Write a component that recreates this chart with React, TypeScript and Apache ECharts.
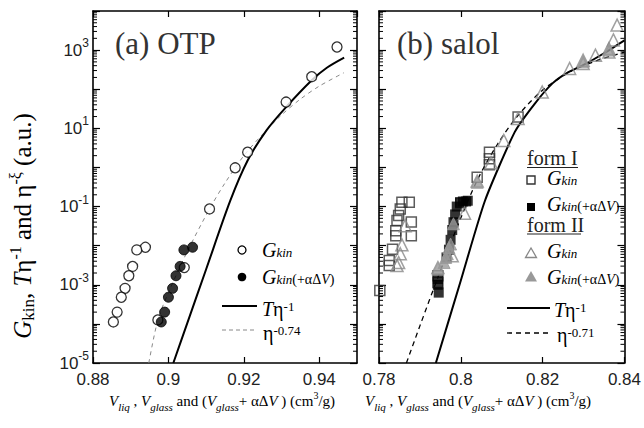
import React, { useEffect, useRef } from "react";
import * as echarts from "echarts";

// ---------- data (x: specific volume cm^3/g, y: a.u.) ----------
// (a) OTP
const otpGkin: [number, number][] = [
  [0.9447, 1200], [0.938, 209], [0.9312, 47], [0.921, 2.45], [0.9177, 0.98],
  [0.9109, 0.087], [0.9042, 0.00275], [0.8972, 0.000126], [0.8939, 0.0091],
  [0.8916, 0.0078], [0.8905, 0.00295], [0.8895, 0.0017], [0.8885, 0.00081],
  [0.8875, 0.00048], [0.8864, 0.0002], [0.8854, 0.000112],
];
const otpGkinShift: [number, number][] = [
  [0.9064, 0.0091], [0.9041, 0.0078], [0.9031, 0.00295], [0.902, 0.0017],
  [0.9011, 0.00081], [0.9, 0.00048], [0.899, 0.0002], [0.8981, 0.000112],
];
const otpTEta: [number, number][] = [
  [0.9013, 1e-5], [0.905, 1.05e-4], [0.91, 2.5e-3], [0.9164, 0.141], [0.921, 1.5],
  [0.926, 8.9], [0.9312, 35], [0.938, 170], [0.942, 355], [0.9466, 645],
];
const otpEta074: [number, number][] = [
  [0.8948, 1e-5], [0.8972, 1.26e-4], [0.9, 6.3e-4], [0.905, 7.1e-3], [0.9109, 0.087],
  [0.915, 0.4], [0.92, 2.0], [0.925, 7.1], [0.93, 22], [0.935, 56], [0.94, 120], [0.9465, 263],
];

// (b) salol
const salolIGkin: [number, number][] = [
  [0.814, 19.5], [0.807, 2.45], [0.807, 1.66], [0.807, 1.17], [0.804, 0.56], [0.8, 0.126],
  [0.7944, 1.7e-3], [0.7944, 1.15e-3], [0.7856, 0.129], [0.7874, 0.129], [0.7852, 0.087],
  [0.7848, 0.059], [0.7844, 0.044], [0.7879, 0.04], [0.7841, 0.024], [0.7841, 0.018],
  [0.7879, 0.018], [0.7833, 8.1e-3], [0.7825, 4.2e-3], [0.7825, 3.1e-3], [0.7802, 7.1e-4],
];
const salolIGkinShift: [number, number][] = [
  [0.7946, 6.3e-4], [0.7944, 1e-3], [0.7944, 1.4e-3], [0.7965, 5e-3], [0.7971, 7.9e-3],
  [0.7975, 0.0141], [0.7979, 0.0251], [0.7982, 0.0398], [0.7986, 0.063], [0.799, 0.1],
  [0.7998, 0.126], [0.8005, 0.135], [0.8013, 0.135], [0.8017, 0.141],
];
const salolIIGkin: [number, number][] = [
  [0.8382, 4365], [0.8373, 1820], [0.8362, 1096], [0.8362, 891], [0.8329, 741],
  [0.8299, 550], [0.8299, 457], [0.8266, 339], [0.8199, 85], [0.814, 17.8],
  [0.8105, 4.9], [0.8074, 1.32], [0.804, 0.447], [0.8009, 0.0676], [0.7979, 5.5e-3],
  [0.7944, 2.75e-3], [0.7864, 0.0324], [0.7856, 0.0105], [0.7852, 6.2e-3],
  [0.7848, 3.7e-3], [0.7844, 3.1e-3],
];
const salolIIGkinShift: [number, number][] = [
  [0.7982, 0.0363], [0.7975, 0.011], [0.7971, 8.9e-3], [0.7967, 6.2e-3], [0.7963, 5e-3],
  [0.7959, 3.7e-3], [0.7944, 2.5e-3], [0.804, 0.417], [0.8299, 501], [0.8362, 1000],
];
const salolTEta: [number, number][] = [
  [0.7939, 1e-5], [0.8, 1.29e-3], [0.8059, 0.141], [0.8132, 8.1], [0.818, 41.7],
  [0.8224, 141], [0.826, 263], [0.83, 417], [0.835, 832], [0.84, 1778],
];
const salolEta071: [number, number][] = [
  [0.7867, 1e-5], [0.79, 8.9e-5], [0.7944, 1.55e-3], [0.799, 0.0282], [0.804, 0.468],
  [0.809, 3.98], [0.814, 21.4], [0.8199, 93], [0.8266, 275], [0.833, 525], [0.84, 891],
];

// axis ranges / ticks
const xRangeA: [number, number] = [0.88, 0.95];
const xRangeB: [number, number] = [0.78, 0.84];
const xStep = 0.02;
const yRange: [number, number] = [1e-5, 1e4];
const minorDecades = [-5, -4, -3, -2, -1, 0, 1, 2, 3];
const minorMult = [2, 3, 4, 5, 6, 7, 8, 9];

const SERIF = '"Liberation Serif", "Times New Roman", serif';
const SANS = '"Liberation Sans", Arial, sans-serif';

const minorTickValues: number[] = [];
minorDecades.forEach((d) => minorMult.forEach((m) => minorTickValues.push(m * Math.pow(10, d))));

function axisCommon() {
  return {
    axisLine: { show: true, onZero: false, lineStyle: { color: "#000", width: 1.6 } },
    axisTick: { show: true, inside: true, length: 7, lineStyle: { color: "#000", width: 1.2 } },
    splitLine: { show: false },
    minorTick: { show: false },
  };
}

function xAxisDef(grid: number, range: [number, number], top: boolean, labels: boolean) {
  return {
    type: "value",
    gridIndex: grid,
    position: top ? "top" : "bottom",
    min: range[0],
    max: range[1],
    interval: xStep,
    ...axisCommon(),
    axisTick: { show: true, inside: true, length: 6, lineStyle: { color: "#000", width: 1.2 } },
    axisLabel: {
      show: labels,
      showMaxLabel: grid === 1,
      margin: 8,
      fontSize: 17,
      color: "#222",
      fontFamily: SANS,
      formatter: (v: number) => String(parseFloat(v.toFixed(2))),
    },
  };
}

function yAxisDef(grid: number, right: boolean, labels: boolean) {
  return {
    type: "log",
    logBase: 10,
    gridIndex: grid,
    position: right ? "right" : "left",
    min: yRange[0],
    max: yRange[1],
    interval: 1,
    ...axisCommon(),
    axisLabel: {
      show: labels,
      margin: 4,
      formatter: (v: number) => {
        const e = Math.round(Math.log10(v));
        return e % 2 !== 0 ? `{a|10}{s|${e}}` : "";
      },
      rich: {
        a: { fontSize: 17, lineHeight: 26, fontFamily: SANS, color: "#222" },
        s: { fontSize: 12, lineHeight: 6, verticalAlign: "top", fontFamily: SANS, color: "#222" },
      },
    },
  };
}

function minorTickSeries(grid: number, x0: number) {
  return {
    type: "custom",
    xAxisIndex: grid * 2,
    yAxisIndex: grid * 2,
    silent: true,
    clip: false,
    z: 10,
    data: minorTickValues.map((v) => [x0, v]),
    renderItem: (params: any, api: any) => {
      const cs = params.coordSys;
      const p = api.coord([api.value(0), api.value(1)]);
      const y = p[1];
      const st = { stroke: "#000", lineWidth: 1 };
      return {
        type: "group",
        children: [
          { type: "line", shape: { x1: cs.x, y1: y, x2: cs.x + 4, y2: y }, style: st },
          { type: "line", shape: { x1: cs.x + cs.width, y1: y, x2: cs.x + cs.width - 4, y2: y }, style: st },
        ],
      };
    },
  };
}

const legRich = {
  g: { fontSize: 20, fontStyle: "italic", fontFamily: SERIF, lineHeight: 18, color: "#222" },
  k: { fontSize: 13, fontStyle: "italic", fontFamily: SERIF, lineHeight: 2, verticalAlign: "bottom", color: "#222" },
  p: { fontSize: 14, fontFamily: SERIF, lineHeight: 10, verticalAlign: "bottom", color: "#222" },
  pv: { fontSize: 14, fontStyle: "italic", fontFamily: SERIF, lineHeight: 10, verticalAlign: "bottom", color: "#222" },
  n: { fontSize: 20, fontFamily: SERIF, lineHeight: 18, color: "#222" },
  s: { fontSize: 13, fontFamily: SERIF, lineHeight: 4, verticalAlign: "top", color: "#222" },
};

function richText(x: number, y: number, text: string, rich: any, align = "left") {
  return {
    type: "text",
    x,
    y,
    style: { text, rich, align, verticalAlign: "middle" },
  };
}

const GKIN = "{g|G}{k|kin}";
const GKIN_SHIFT = "{g|G}{k|kin}{p|(+αΔ}{pv|V}{p|)}";

export default function App() {
  const ref = useRef<HTMLDivElement>(null);
  useEffect(() => {
    document.body.style.margin = "0";
    const chart = echarts.init(ref.current!, null, { renderer: "svg" });
    const xNameRich = {
      n: { fontSize: 15, fontFamily: SERIF, lineHeight: 22, color: "#222" },
      i: { fontSize: 15, fontStyle: "italic", fontFamily: SERIF, lineHeight: 22, color: "#222" },
      sub: { fontSize: 11, fontStyle: "italic", fontFamily: SERIF, lineHeight: 2, verticalAlign: "bottom", color: "#222" },
      sup: { fontSize: 10, fontFamily: SERIF, lineHeight: 12, verticalAlign: "top", color: "#222" },
    };
    const xNameText =
      "{i|V}{sub|liq}{n| , }{i|V}{sub|glass}{n| and (}{i|V}{sub|glass}{n|+ αΔ}{i|V}{n| ) (cm}{sup|3}{n|/g)}";
    const yNameRich = {
      g: { fontSize: 25, fontStyle: "italic", fontFamily: SERIF, lineHeight: 30, color: "#222" },
      k: { fontSize: 17, fontFamily: SERIF, lineHeight: 6, verticalAlign: "bottom", color: "#222" },
      n: { fontSize: 25, fontFamily: SERIF, lineHeight: 30, color: "#222" },
      t: { fontSize: 25, fontStyle: "italic", fontFamily: SERIF, lineHeight: 30, color: "#222" },
      s: { fontSize: 16, fontFamily: SERIF, lineHeight: 8, verticalAlign: "top", color: "#222" },
    };

    const option: any = {
      animation: false,
      backgroundColor: "#fff",
      grid: [
        { left: 93, top: 11, width: 264, height: 352 },
        { left: 379, top: 11, width: 261, height: 352 },
      ],
      xAxis: [
        xAxisDef(0, xRangeA, false, true),
        xAxisDef(0, xRangeA, true, false),
        xAxisDef(1, xRangeB, false, true),
        xAxisDef(1, xRangeB, true, false),
      ],
      yAxis: [
        yAxisDef(0, false, true),
        yAxisDef(0, true, false),
        yAxisDef(1, false, false),
        yAxisDef(1, true, false),
      ],
      series: [
        minorTickSeries(0, xRangeA[0]),
        minorTickSeries(1, xRangeB[0]),
        {
          type: "line", xAxisIndex: 0, yAxisIndex: 0, data: otpEta074, symbol: "none", smooth: 0.3,
          lineStyle: { color: "#888", width: 1, type: [4, 4] }, z: 2,
        },
        {
          type: "line", xAxisIndex: 0, yAxisIndex: 0, data: otpTEta, symbol: "none", smooth: 0.3,
          lineStyle: { color: "#000", width: 2 }, z: 2,
        },
        {
          type: "scatter", xAxisIndex: 0, yAxisIndex: 0, data: otpGkin, symbol: "circle", symbolSize: 10,
          itemStyle: { color: "#fff", borderColor: "#000", borderWidth: 1.3 }, z: 3,
        },
        {
          type: "scatter", xAxisIndex: 0, yAxisIndex: 0, data: otpGkinShift, symbol: "circle", symbolSize: 10,
          itemStyle: { color: "#000", borderColor: "#000", borderWidth: 1 }, z: 4,
        },
        {
          type: "line", xAxisIndex: 2, yAxisIndex: 2, data: salolEta071, symbol: "none", smooth: 0.3,
          lineStyle: { color: "#000", width: 1.3, type: [5, 4] }, z: 2,
        },
        {
          type: "line", xAxisIndex: 2, yAxisIndex: 2, data: salolTEta, symbol: "none", smooth: 0.2,
          lineStyle: { color: "#000", width: 2 }, z: 2,
        },
        {
          type: "scatter", xAxisIndex: 2, yAxisIndex: 2, data: salolIGkin, symbol: "rect", symbolSize: 10,
          itemStyle: { color: "rgba(255,255,255,0)", borderColor: "#333", borderWidth: 1.5 }, z: 3,
        },
        {
          type: "scatter", xAxisIndex: 2, yAxisIndex: 2, data: salolIGkinShift, symbol: "rect", symbolSize: 10,
          itemStyle: { color: "#000" }, z: 3,
        },
        {
          type: "scatter", xAxisIndex: 2, yAxisIndex: 2, data: salolIIGkin, symbol: "triangle", symbolSize: 12,
          itemStyle: { color: "rgba(255,255,255,0)", borderColor: "#888", borderWidth: 1.5 }, z: 4,
        },
        {
          type: "scatter", xAxisIndex: 2, yAxisIndex: 2, data: salolIIGkinShift, symbol: "triangle", symbolSize: 12,
          itemStyle: { color: "#999", borderColor: "#999", borderWidth: 1 }, z: 4,
        },
      ],
      graphic: [
        // panel titles
        { type: "text", x: 115, y: 43, style: { text: "(a) OTP", font: `31px ${SERIF}`, fill: "#333", verticalAlign: "middle" } },
        { type: "text", x: 397, y: 43, style: { text: "(b) salol", font: `31px ${SERIF}`, fill: "#333", verticalAlign: "middle" } },
        // y-axis title
        {
          type: "text", x: 22, y: 226, rotation: Math.PI / 2,
          style: {
            text: "{g|G}{k|kin}{n|, }{t|T}{n|η}{s|-1}{n| and η}{s|-ξ}{n| (a.u.)}",
            rich: yNameRich, align: "center", verticalAlign: "middle",
          },
        },
        // x-axis titles
        richText(222, 401, xNameText, xNameRich, "center"),
        richText(478, 401, xNameText, xNameRich, "center"),
        // legend (a)
        { type: "circle", shape: { cx: 242, cy: 250, r: 4 }, style: { fill: "#fff", stroke: "#000", lineWidth: 1.3 } },
        richText(262, 250, GKIN, legRich),
        { type: "circle", shape: { cx: 242, cy: 277, r: 4.3 }, style: { fill: "#000" } },
        richText(262, 277, GKIN_SHIFT, legRich),
        { type: "line", shape: { x1: 222, y1: 306, x2: 257, y2: 306 }, style: { stroke: "#000", lineWidth: 2 } },
        richText(262, 309, "{g|T}{n|η}{s|-1}", legRich),
        { type: "line", shape: { x1: 222, y1: 330, x2: 257, y2: 330 }, style: { stroke: "#888", lineWidth: 1, lineDash: [4, 3] } },
        richText(263, 333, "{n|η}{s|-0.74}", legRich),
        // legend (b)
        { type: "text", x: 527, y: 158, style: { text: "form I", font: `20px ${SERIF}`, fill: "#222", verticalAlign: "middle" } },
        { type: "line", shape: { x1: 527, y1: 167.5, x2: 578, y2: 167.5 }, style: { stroke: "#222", lineWidth: 1.2 } },
        { type: "rect", shape: { x: 527, y: 176, width: 8, height: 8 }, style: { fill: "none", stroke: "#333", lineWidth: 1.4 } },
        richText(547, 178, GKIN, legRich),
        { type: "rect", shape: { x: 527, y: 203, width: 8, height: 8 }, style: { fill: "#000" } },
        richText(547, 204, GKIN_SHIFT, legRich),
        { type: "text", x: 527, y: 225, style: { text: "form II", font: `20px ${SERIF}`, fill: "#222", verticalAlign: "middle" } },
        { type: "line", shape: { x1: 527, y1: 234, x2: 581, y2: 234 }, style: { stroke: "#222", lineWidth: 1.2 } },
        { type: "polygon", shape: { points: [[531, 248], [525.5, 257.5], [536.5, 257.5]] }, style: { fill: "none", stroke: "#888", lineWidth: 1.3 } },
        richText(547, 251, GKIN, legRich),
        { type: "polygon", shape: { points: [[531, 271], [525, 281.5], [537, 281.5]] }, style: { fill: "#999" } },
        richText(547, 277, GKIN_SHIFT, legRich),
        { type: "line", shape: { x1: 507, y1: 308, x2: 550, y2: 308 }, style: { stroke: "#000", lineWidth: 2 } },
        richText(554, 310, "{g|T}{n|η}{s|-1}", legRich),
        { type: "line", shape: { x1: 507, y1: 333, x2: 550, y2: 333 }, style: { stroke: "#000", lineWidth: 1.3, lineDash: [5, 4] } },
        richText(557, 335, "{n|η}{s|-0.71}", legRich),
      ],
    };
    chart.setOption(option);
    return () => chart.dispose();
  }, []);
  return (
    <div
      ref={ref}
      style={{ position: "fixed", left: 0, top: 0, width: 644, height: 428, background: "#fff" }}
    />
  );
}
